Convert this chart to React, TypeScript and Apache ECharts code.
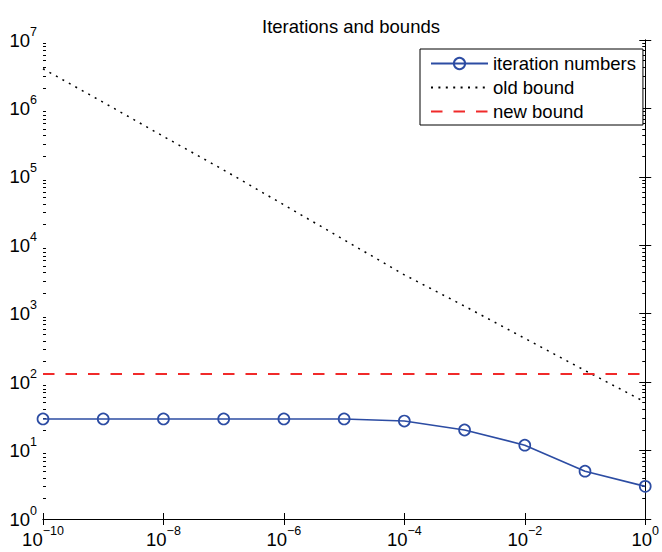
import React, { useEffect, useRef } from "react";
import * as echarts from "echarts";

// ---- data ----
const xValues = [1e-10, 1e-9, 1e-8, 1e-7, 1e-6, 1e-5, 1e-4, 1e-3, 1e-2, 1e-1, 1];
const iterationNumbers = [29, 29, 29, 29, 29, 29, 27, 20, 12, 5, 3];
const oldBound = [3.8e6, 1.23e6, 3.9e5, 1.26e5, 3.9e4, 1.2e4, 3.7e3, 1.29e3, 436, 148, 51];
const newBoundValue = 132;
const newBoundX = [1e-10, 1];

const xTickValues = [1e-10, 1e-8, 1e-6, 1e-4, 1e-2, 1];
const yTickValues = [1, 10, 100, 1e3, 1e4, 1e5, 1e6, 1e7];
const yMinorMultipliers = [2, 3, 4, 5, 6, 7, 8, 9];

const seriesNames = ["iteration numbers", "old bound", "new bound"];
const titleText = "Iterations and bounds";

const FONT = "'Liberation Sans', Arial, Helvetica, sans-serif";
const BLUE = "#2c4ca3";
const RED = "#f02a2a";
const FS = 18.5;

// tick positions for the decoration axes (exponent space)
const xTickExp = xTickValues.map((v) => Math.log10(v));
const yTickExp = yTickValues.map((v) => Math.log10(v));
const yMinorExp: number[] = [];
yTickValues.slice(0, -1).forEach((d) => yMinorMultipliers.forEach((m) => yMinorExp.push(Math.log10(d * m))));

function supLabel(v: number) {
  const e = Math.round(Math.log10(v));
  const s = e < 0 ? "\u2212" + -e : String(e);
  return "{b|10}{s|" + s + "}";
}

const rich = {
  b: { fontSize: FS, fontFamily: FONT, color: "#000" },
  s: { fontSize: 12.5, fontFamily: FONT, color: "#000", padding: [0, 0, 17, 0] },
};

export default function App() {
  const ref = useRef<HTMLDivElement>(null);
  useEffect(() => {
    document.body.style.margin = "0";
    const chart = echarts.init(ref.current!, undefined, { renderer: "svg" });
    const xMin = xValues[0];
    const xMax = xValues[xValues.length - 1];
    const yMin = yTickValues[0];
    const yMax = yTickValues[yTickValues.length - 1];
    const axisLine = { show: true, lineStyle: { color: "#000", width: 1 } };
    const noLine = { show: false };
    const tick = (vals: number[], len: number) => ({
      show: true,
      inside: true,
      length: len,
      customValues: vals,
      lineStyle: { color: "#000", width: 1 },
    });
    const decoX = (position: string, vals: number[], line: boolean) => ({
      type: "value" as const,
      position,
      min: Math.log10(xMin),
      max: Math.log10(xMax),
      splitLine: { show: false },
      axisLine: line ? axisLine : noLine,
      axisTick: tick(vals, 6),
      axisLabel: { show: false },
    });
    const decoY = (position: string, vals: number[], len: number, line: boolean) => ({
      type: "value" as const,
      position,
      min: Math.log10(yMin),
      max: Math.log10(yMax),
      splitLine: { show: false },
      axisLine: line ? axisLine : noLine,
      axisTick: tick(vals, len),
      axisLabel: { show: false },
    });
    chart.setOption({
      animation: false,
      backgroundColor: "#fff",
      title: {
        text: titleText,
        left: 346,
        textAlign: "center",
        top: 12,
        textStyle: { fontSize: FS, fontWeight: "normal", fontFamily: FONT, color: "#000" },
      },
      grid: { left: 43, right: 11, top: 40, bottom: 33, containLabel: false },
      legend: {
        orient: "vertical",
        left: 420,
        top: 49,
        padding: [5, 7, 4, 10],
        itemGap: 5,
        itemWidth: 57,
        itemHeight: 14,
        borderColor: "#000",
        borderWidth: 1,
        backgroundColor: "#fff",
        borderRadius: 0,
        textStyle: { fontSize: FS, fontFamily: FONT, color: "#000" },
        data: [
          { name: seriesNames[0] },
          { name: seriesNames[1], itemStyle: { color: "rgba(0,0,0,0)", borderWidth: 0, opacity: 0 } },
          { name: seriesNames[2], itemStyle: { color: "rgba(0,0,0,0)", borderWidth: 0, opacity: 0 } },
        ],
      },
      xAxis: [
        {
          type: "log",
          logBase: 10,
          min: xMin,
          max: xMax,
          position: "bottom",
          splitLine: { show: false },
          axisLine,
          axisTick: { show: false },
          axisLabel: {
            customValues: xTickValues,
            margin: 5,
            formatter: (v: number) => supLabel(v),
            rich,
          },
        },
        decoX("bottom", xTickExp, false),
        decoX("top", xTickExp, true),
      ],
      yAxis: [
        {
          type: "log",
          logBase: 10,
          min: yMin,
          max: yMax,
          position: "left",
          splitLine: { show: false },
          axisLine,
          axisTick: { show: false },
          axisLabel: {
            customValues: yTickValues,
            margin: 6,
            formatter: (v: number) => supLabel(v),
            rich,
          },
        },
        decoY("left", yTickExp, 6, false),
        decoY("left", yMinorExp, 3, false),
        decoY("right", yTickExp, 6, true),
        decoY("right", yMinorExp, 3, false),
      ],
      series: [
        {
          name: seriesNames[0],
          type: "line",
          data: xValues.map((x, i) => [x, iterationNumbers[i]]),
          symbol: "circle",
          symbolSize: 11,
          clip: false,
          lineStyle: { color: BLUE, width: 1.6 },
          itemStyle: { color: "rgba(0,0,0,0)", borderColor: BLUE, borderWidth: 1.7 },
          z: 3,
        },
        {
          name: seriesNames[1],
          type: "line",
          data: xValues.map((x, i) => [x, oldBound[i]]),
          showSymbol: false,
          symbol: "none",
          lineStyle: { color: "#000", width: 1.5, type: [2, 5.4] },
          itemStyle: { color: "#000" },
          z: 2,
        },
        {
          name: seriesNames[2],
          type: "line",
          data: newBoundX.map((x) => [x, newBoundValue]),
          showSymbol: false,
          symbol: "none",
          lineStyle: { color: RED, width: 2, type: [11.5, 11] },
          itemStyle: { color: RED },
          z: 2,
        },
      ],
    });
    return () => chart.dispose();
  }, []);
  return <div ref={ref} style={{ width: 662, height: 552 }} />;
}
